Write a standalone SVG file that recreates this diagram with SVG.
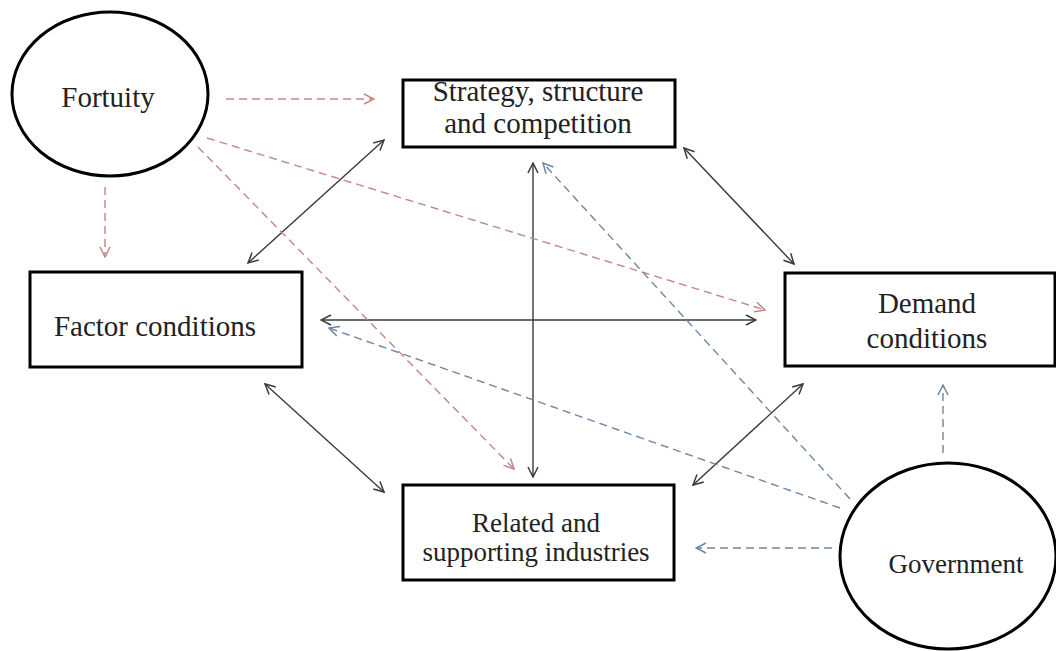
<svg xmlns="http://www.w3.org/2000/svg" width="1056" height="651" viewBox="0 0 1056 651">
<style>
.node{fill:#fff;stroke:#000;stroke-width:3}
.lbl{font-family:'Liberation Serif','Times New Roman',Times,serif;font-size:29px;fill:#222;text-anchor:middle}
.blk{stroke:#3a3a3a;stroke-width:1.4;fill:none;marker-start:url(#hk);marker-end:url(#hk)}
.red{stroke:#c58686;stroke-width:1.4;fill:none;stroke-dasharray:8 5;marker-end:url(#hr)}
.blu{stroke:#6f86a6;stroke-width:1.4;fill:none;stroke-dasharray:8 5;marker-end:url(#hb)}
</style>
<defs>
<marker id="hk" viewBox="0 0 12 12" refX="11" refY="6" markerWidth="12" markerHeight="12" markerUnits="userSpaceOnUse" orient="auto-start-reverse"><path d="M1,1 L11,6 L1,11" fill="none" stroke="#3a3a3a" stroke-width="1.5"/></marker>
<marker id="hr" viewBox="0 0 12 12" refX="11" refY="6" markerWidth="12" markerHeight="12" markerUnits="userSpaceOnUse" orient="auto"><path d="M1,1 L11,6 L1,11" fill="none" stroke="#c58686" stroke-width="1.5"/></marker>
<marker id="hb" viewBox="0 0 12 12" refX="11" refY="6" markerWidth="12" markerHeight="12" markerUnits="userSpaceOnUse" orient="auto"><path d="M1,1 L11,6 L1,11" fill="none" stroke="#6f86a6" stroke-width="1.5"/></marker>
</defs>
<rect width="1056" height="651" fill="#fff"/>
<g id="connectors">
<line class="blk" x1="384" y1="140" x2="248" y2="263"/>
<line class="blk" x1="684" y1="148" x2="794" y2="264"/>
<line class="blk" x1="533" y1="163" x2="533" y2="477"/>
<line class="blk" x1="321" y1="320" x2="756" y2="320"/>
<line class="blk" x1="265" y1="384" x2="384" y2="492"/>
<line class="blk" x1="803" y1="384" x2="693" y2="485"/>
<line class="red" x1="226" y1="99" x2="374" y2="99"/>
<line class="red" x1="105" y1="187" x2="105" y2="257"/>
<line class="red" x1="207" y1="138" x2="765" y2="310"/>
<line class="red" x1="198" y1="147" x2="514" y2="469"/>
<line class="blu" x1="850" y1="499" x2="543" y2="163"/>
<line class="blu" x1="840" y1="508" x2="329" y2="328"/>
<line class="blu" x1="832" y1="548" x2="696" y2="548"/>
<line class="blu" x1="943" y1="453" x2="943" y2="385"/>
</g>
<g id="fortuity">
<ellipse class="node" cx="110" cy="94" rx="98" ry="82"/>
<text class="lbl" x="108" y="107" font-family="Liberation Serif, serif">Fortuity</text>
</g>
<g id="strategy">
<rect class="node" x="403" y="80" width="272" height="67"/>
<text class="lbl" x="538" y="101" font-family="Liberation Serif, serif">Strategy, structure</text>
<text class="lbl" x="538" y="133" font-family="Liberation Serif, serif">and competition</text>
</g>
<g id="factor">
<rect class="node" x="30" y="272" width="272" height="95"/>
<text class="lbl" x="155" y="336" font-family="Liberation Serif, serif">Factor conditions</text>
</g>
<g id="demand">
<rect class="node" x="785" y="273" width="270" height="93"/>
<text class="lbl" x="927" y="313" font-family="Liberation Serif, serif">Demand</text>
<text class="lbl" x="927" y="348" font-family="Liberation Serif, serif">conditions</text>
</g>
<g id="related">
<rect class="node" x="403" y="485" width="271" height="95"/>
<text class="lbl" x="536" y="532" font-family="Liberation Serif, serif" style="font-size:27px">Related and</text>
<text class="lbl" x="536" y="561" font-family="Liberation Serif, serif" style="font-size:27px">supporting industries</text>
</g>
<g id="government">
<ellipse class="node" cx="948" cy="556" rx="108" ry="93"/>
<text class="lbl" x="956" y="573" font-family="Liberation Serif, serif" style="font-size:27px">Government</text>
</g>
</svg>
